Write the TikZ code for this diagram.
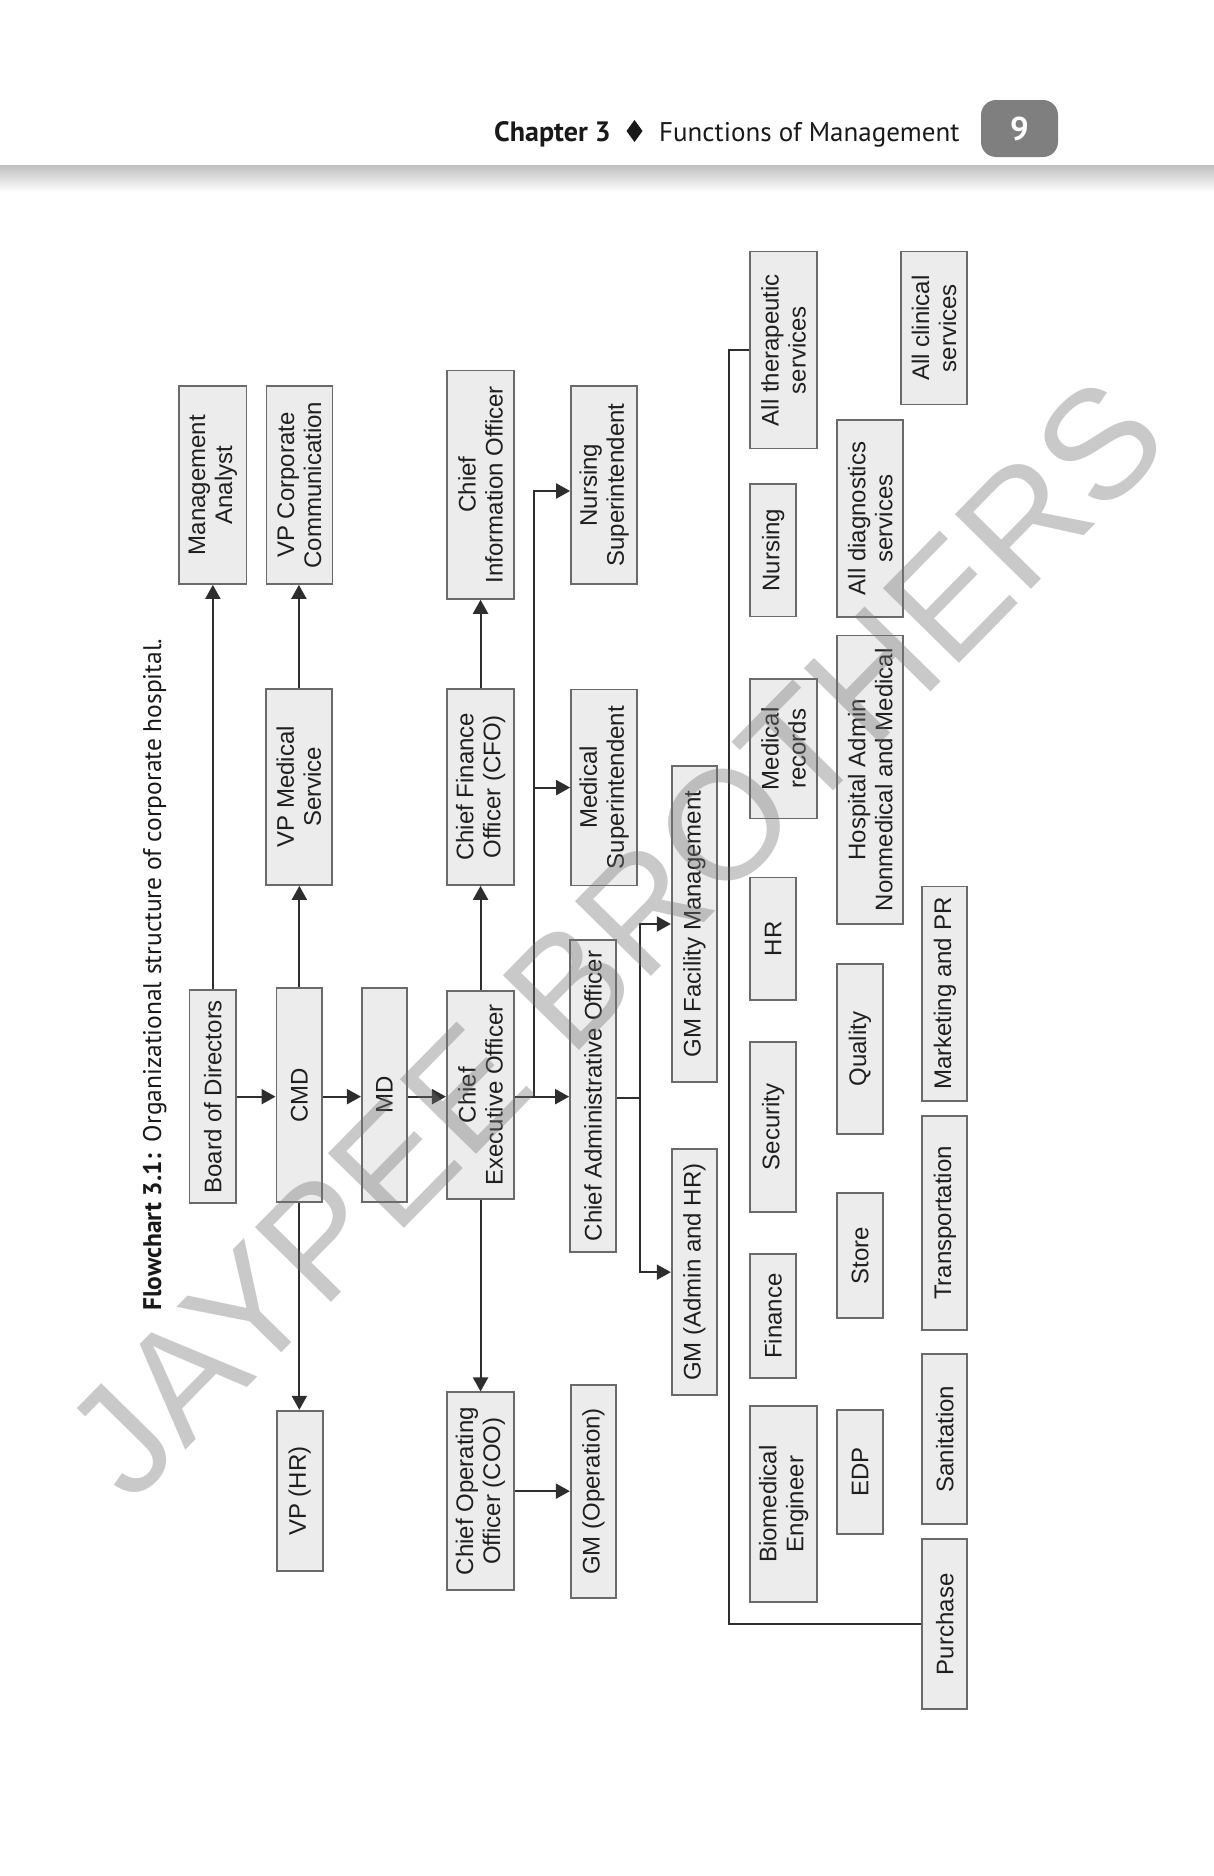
\documentclass[tikz,border=0pt]{standalone}
\usepackage{fontspec}
\setmainfont{Liberation Sans}
\newfontfamily\hdfont{PT Sans}
\usetikzlibrary{arrows.meta}
\definecolor{boxfill}{HTML}{ECECEC}
\definecolor{boxline}{HTML}{6A6A6A}
\definecolor{arrc}{HTML}{2E2E2E}
\definecolor{pagebox}{HTML}{7F7F7F}
\newcommand\obox[6]{%
  \node[orgbox, minimum width={(#5)-(#4)}, minimum height={(#3)-(#2)}]
    (#1) at ({((#2)+(#3))/2},{((#4)+(#5))/2}) {#6};}
\begin{document}
\begin{tikzpicture}[x=1pt,y=-1pt,
  orgbox/.style={draw=boxline, line width=1.7pt, fill=boxfill, rotate=90,
    inner sep=0pt, align=center, text=black!88,
    font=\fontsize{24}{27}\selectfont},
  conn/.style={draw=arrc, line width=2pt},
  arrw/.style={conn, -{Triangle[length=14pt,width=15pt]}},
  hdr/.style={font=\hdfont\fontsize{27}{27}\selectfont, text=black!90, anchor=base west, inner sep=0pt},
]
\useasboundingbox (0,0) rectangle (1214,1876);
\fill[white] (0,0) rectangle (1214,1876);
% header
\shade[top color=black!25, bottom color=white] (0,165) rectangle (1214,192);
\node[hdr, anchor=base east, font=\hdfont\bfseries\fontsize{28}{28}\selectfont] (chap) at (611,141.5) {Chapter 3};
\fill[black!90] (634.5,120) -- (642.5,131) -- (634.5,142) -- (626.5,131) -- cycle;
\node[hdr] (func) at (659,141.5) {Functions of Management};
\fill[pagebox, rounded corners=15pt] (981,100) rectangle (1058,157);
\node[font=\hdfont\bfseries\fontsize{33}{33}\selectfont, text=white] (pg) at (1019.5,129) {9};
% caption
\node[rotate=90, anchor=base west, inner sep=0pt, text=black!90,
  font=\hdfont\fontsize{25.5}{25.5}\selectfont] (cap) at (161,1311)
  {\textbf{Flowchart 3.1:}\hspace{12pt}Organizational structure of corporate hospital.};
% boxes
\obox{board}{189.6}{236.1}{990}{1203.3}{Board of Directors}
\obox{cmd}{276.4}{322.3}{988.3}{1201.7}{CMD}
\obox{md}{361.8}{406.8}{988.3}{1201.7}{MD}
\obox{ceo}{446.8}{514.3}{990.7}{1199.3}{Chief\\Executive Officer}
\obox{cao}{570}{616}{940}{1251.7}{Chief Administrative Officer}
\obox{mgmt}{179.3}{246.4}{386}{584}{Management\\Analyst}
\obox{vpcc}{266.4}{332.5}{386}{584}{VP Corporate\\Communication}
\obox{vpms}{265.7}{332.1}{688.7}{885}{VP Medical\\Service}
\obox{cio}{446.8}{514.3}{370.4}{598.9}{Chief\\Information Officer}
\obox{cfo}{446.8}{514.3}{688.7}{885}{Chief Finance\\Officer (CFO)}
\obox{nsup}{571}{637.3}{386}{584}{Nursing\\Superintendent}
\obox{msup}{571}{637.3}{689.6}{885.6}{Medical\\Superintendent}
\obox{vphr}{276.7}{322.7}{1410.7}{1571.3}{VP (HR)}
\obox{coo}{447}{514}{1392.3}{1590}{Chief Operating\\Officer (COO)}
\obox{gmop}{570.7}{616}{1384.7}{1598.3}{GM (Operation)}
\obox{gmfm}{671.7}{717}{766.3}{1081.7}{GM Facility Management}
\obox{gmah}{671.7}{717}{1149.3}{1395}{GM (Admin and HR)}
\obox{ther}{750.3}{817}{251.6}{448.5}{All therapeutic\\services}
\obox{nurs}{750.3}{796}{483.9}{616.6}{Nursing}
\obox{mrec}{750.3}{817}{679}{818.6}{Medical\\records}
\obox{hr}{750.3}{796}{877.4}{1000}{HR}
\obox{sec}{750.3}{796}{1042}{1211.7}{Security}
\obox{fin}{750.3}{796}{1254}{1378.3}{Finance}
\obox{bio}{750.3}{817}{1405.7}{1602.3}{Biomedical\\Engineer}
\obox{diag}{837.3}{903.3}{420}{617}{All diagnostics\\services}
\obox{hadm}{837.3}{903.3}{635.4}{924.2}{Hospital Admin\\Nonmedical and Medical}
\obox{qual}{837.3}{882.7}{964.3}{1134.3}{Quality}
\obox{store}{837.3}{882.7}{1193.3}{1317.7}{Store}
\obox{edp}{837.3}{882.7}{1409.7}{1534}{EDP}
\obox{clin}{900.7}{967.3}{251.6}{404.5}{All clinical\\services}
\obox{mkt}{922.3}{967.3}{886.6}{1100.7}{Marketing and PR}
\obox{trans}{922.3}{967.3}{1116}{1330}{Transportation}
\obox{sani}{922.3}{967.3}{1354.3}{1524}{Sanitation}
\obox{purch}{922.3}{967.3}{1539.3}{1709.3}{Purchase}
% main chain
\draw[arrw] (board.south) -- (board.south -| cmd.north);
\draw[arrw] (cmd.south |- board.south) -- (board.south -| md.north);
\draw[arrw] (md.south |- board.south) -- (board.south -| ceo.north);
\draw[arrw] (ceo.south |- board.south) -- (board.south -| cao.north);
% upward / downward
\draw[arrw] (board.east) -- (board.east |- mgmt.west);
\draw[arrw] (cmd.east) -- (cmd.east |- vpms.west);
\draw[arrw] (vpms.east) -- (vpms.east |- vpcc.west);
\draw[arrw] (cmd.west) -- (cmd.west |- vphr.east);
\draw[arrw] (ceo.east) -- (ceo.east |- cfo.west);
\draw[arrw] (cfo.east) -- (cfo.east |- cio.west);
\draw[arrw] (ceo.west) -- (ceo.west |- coo.east);
\draw[arrw] (coo.south) -- (coo.south -| gmop.north);
% CEO junction
\coordinate (j1) at (534.4,1096.6);
\coordinate (jn) at (534.4,491);
\draw[arrw] (j1) -- (jn) -- (jn -| nsup.north);
\draw[arrw] (j1 |- msup.north) -- (msup.north);
% CAO branch
\coordinate (j2) at (639.8,1098);
\draw[conn] (cao.south |- j2) -- (j2);
\draw[arrw] (j2) -- (j2 |- gmfm.north) -- (gmfm.north);
\draw[arrw] (j2) -- (j2 |- gmah.north) -- (gmah.north);
% big bracket
\draw[conn] (ther.north) -- ++(-20,0) |- (purch.north);
% watermark
\node[rotate=45.5, text=black!55, text opacity=0.38,
  font=\fontsize{155}{155}\selectfont] (wm) at (614.5,938) {JAYPEE BROTHERS};
\end{tikzpicture}
\end{document}
